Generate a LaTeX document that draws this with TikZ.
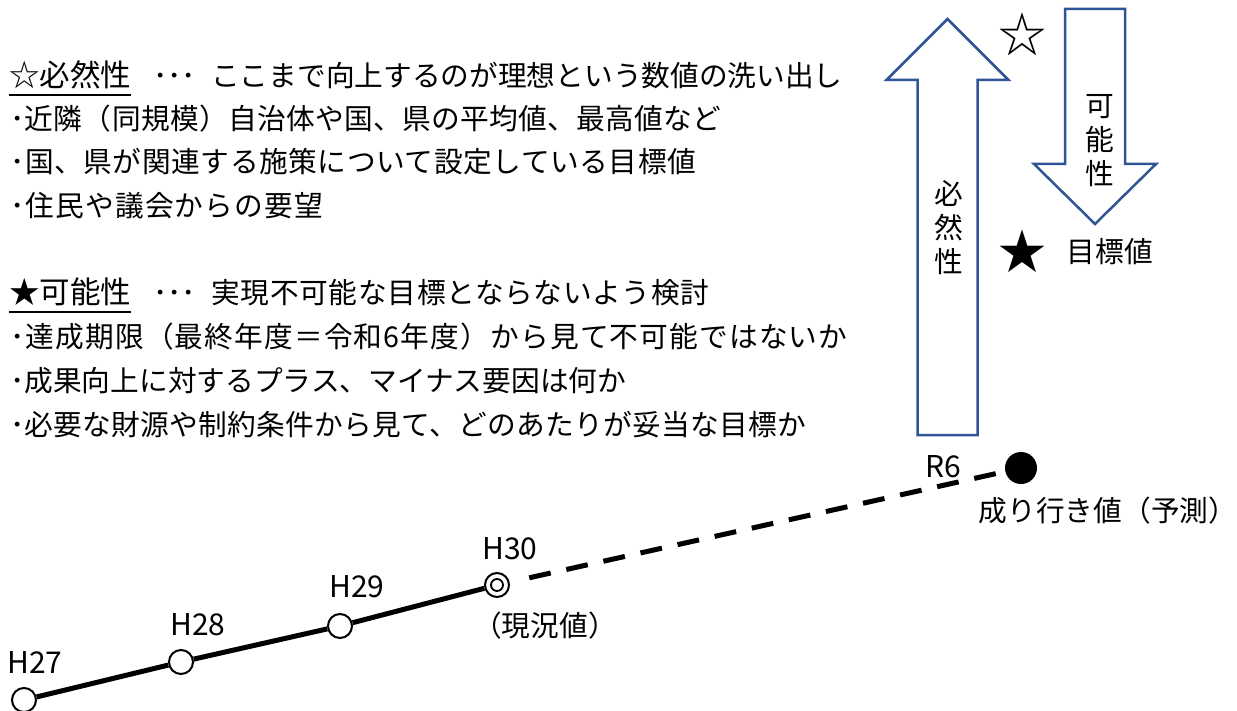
\documentclass[tikz,border=0pt]{standalone}
\usepackage{fontspec}
\setmainfont{Noto Sans CJK JP}
\definecolor{arrowblue}{RGB}{47,85,151}
\newcommand\lsp[1]{\addfontfeature{LetterSpace=#1}}
\begin{document}
\begin{tikzpicture}[x=1pt,y=-1pt,
  txt/.style={font=\fontsize{28.7}{34}\selectfont, inner sep=0, anchor=base west},
  head/.style={font=\fontsize{30.5}{34}\selectfont, inner sep=0, anchor=base west},
  uline/.style={line width=2pt},
  bigarrow/.style={draw=arrowblue, line width=2.5pt, fill=white, line join=miter},
  vtext/.style={font=\fontsize{28.7}{34}\selectfont, inner sep=0, align=center},
  lbl/.style={font=\fontsize{30}{34}\selectfont, inner sep=0},
  jlbl/.style={font=\fontsize{28.7}{34}\selectfont, inner sep=0},
  opendot/.style={circle, draw, line width=2pt, minimum size=24pt, inner sep=0, fill=white},
  solidline/.style={line width=5pt},
  dashline/.style={line width=5pt, dash pattern=on 22pt off 16pt},
  starmark/.style={font=\fontsize{48}{50}\selectfont, inner sep=0}
]
\useasboundingbox (0,0) rectangle (1237,711);

% text block 1
\node[head] (h1) at (9,87) {☆必然性};
\draw[uline] ([yshift=-8pt]h1.base west) -- ([yshift=-8pt]h1.base east);
\node[txt] (h1d) at (153,87) {･･･};
\node[txt] (h1t) at (211,87) {ここまで向上するのが理想という数値の洗い出し};
\node[txt] (a2) at (10,130) {\lsp{1.2}･近隣（同規模）自治体や国、県の平均値、最高値など};
\node[txt] (a3) at (10,173) {\lsp{2}･国、県が関連する施策について設定している目標値};
\node[txt] (a4) at (10,217) {\lsp{4}･住民や議会からの要望};

% text block 2
\node[head] (h2) at (9,304) {★可能性};
\draw[uline] ([yshift=-8pt]h2.base west) -- ([yshift=-8pt]h2.base east);
\node[txt] (h2d) at (153,304) {･･･};
\node[txt] (h2t) at (211,304) {\lsp{2.5}実現不可能な目標とならないよう検討};
\node[txt] (b2) at (10,348) {\lsp{4}･達成期限（最終年度＝令和6年度）から見て不可能ではないか};
\node[txt] (b3) at (10,391) {･成果向上に対するプラス、マイナス要因は何か};
\node[txt] (b4) at (10,435) {\lsp{1}･必要な財源や制約条件から見て、どのあたりが妥当な目標か};

% big arrows
\draw[bigarrow] (917.5,435) -- (917.5,80) -- (886.5,80) -- (947.5,19) -- (1008.5,80) -- (977.5,80) -- (977.5,435) -- cycle;
\node[vtext] (nec) at (949,228) {必\\然\\性};
\draw[bigarrow] (1065,9) -- (1125,9) -- (1125,164) -- (1156,164) -- (1095,224) -- (1034,164) -- (1065,164) -- cycle;
\node[vtext] (pos) at (1100,141) {可\\能\\性};

\node[starmark] (wstar) at (1022,34) {☆};
\node[starmark] (bstar) at (1022,251) {★};
\node[jlbl] (goal) at (1110,252) {目標値};

% data points
\node[opendot] (p27) at (24,700) {};
\node[opendot] (p28) at (181,662) {};
\node[opendot] (p29) at (340,626) {};
\node[opendot] (p30) at (497,585) {};
\draw[line width=1.8pt] (p30.center) circle (6);
\node[circle, fill=black, minimum size=32pt, inner sep=0] (r6) at (1021,468) {};

\draw[solidline] (p27) -- (p28) -- (p29) -- (p30);
\draw[dashline, shorten <=20pt, shorten >=2pt] (p30) -- (r6);

\node[lbl] (l27) at (35,663) {H27};
\node[lbl] (l28) at (198,625) {H28};
\node[lbl] (l29) at (357,587) {H29};
\node[lbl] (l30) at (510,549) {H30};
\node[lbl] (lr6) at (943,467) {R6};
\node[jlbl] (cur) at (545,626) {（現況値）};
\node[jlbl] (fore) at (1108,511) {成り行き値（予測）};
\end{tikzpicture}
\end{document}
